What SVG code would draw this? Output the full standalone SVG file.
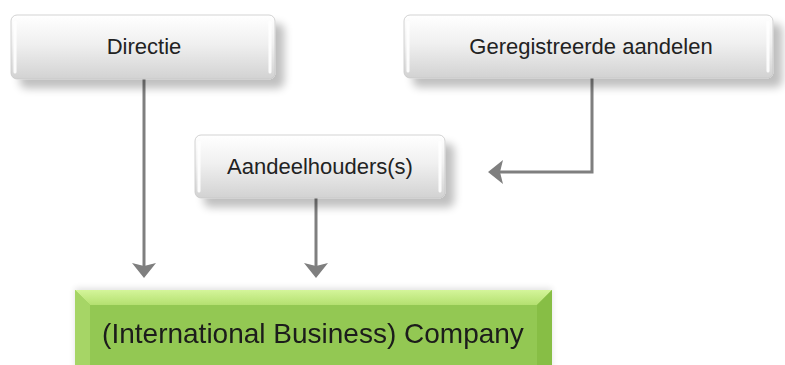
<svg xmlns="http://www.w3.org/2000/svg" width="785" height="365" viewBox="0 0 785 365">
<style>
.lbl{font-family:"Liberation Sans",Arial,sans-serif;font-size:22px;fill:#222;text-anchor:middle}
.big{font-family:"Liberation Sans",Arial,sans-serif;font-size:28px;fill:#1a1a1a;text-anchor:middle}
.box{fill:url(#gg);stroke:#c8c8c8;stroke-width:0.8;filter:url(#sh)}
.hl{stroke:#ffffff;stroke-width:3;stroke-linecap:round;opacity:0.9}
.con{stroke:#7f7f7f;stroke-width:3;fill:none}
</style>
<defs>
<linearGradient id="gg" x1="0" y1="0" x2="0" y2="1">
<stop offset="0" stop-color="#ffffff"/>
<stop offset="0.45" stop-color="#f0f0f0"/>
<stop offset="1" stop-color="#d2d2d2"/>
</linearGradient>
<linearGradient id="gt" x1="0" y1="0" x2="0" y2="1">
<stop offset="0" stop-color="#d4f59a"/>
<stop offset="1" stop-color="#b4e070"/>
</linearGradient>
<filter id="sh" x="-10%" y="-20%" width="125%" height="160%">
<feGaussianBlur in="SourceAlpha" stdDeviation="4"/>
<feOffset dx="9" dy="9" result="b"/>
<feComponentTransfer><feFuncA type="linear" slope="0.25"/></feComponentTransfer>
<feMerge><feMergeNode/><feMergeNode in="SourceGraphic"/></feMerge>
</filter>
<filter id="sh2" x="-5%" y="-20%" width="110%" height="160%">
<feGaussianBlur in="SourceAlpha" stdDeviation="3"/>
<feOffset dx="0" dy="-2"/>
<feComponentTransfer><feFuncA type="linear" slope="0.12"/></feComponentTransfer>
<feMerge><feMergeNode/><feMergeNode in="SourceGraphic"/></feMerge>
</filter>
<marker id="ah" markerWidth="8" markerHeight="8" refX="3" refY="4" orient="auto" markerUnits="strokeWidth">
<path d="M0,0 L5,4 L0,8 L1,4 Z" fill="#7f7f7f"/>
</marker>
</defs>

<g id="connectors">
<path class="con" d="M144,79 V272" marker-end="url(#ah)"/>
<path class="con" d="M316,198 V272" marker-end="url(#ah)"/>
<path class="con" d="M592,78 V172 H494" marker-end="url(#ah)"/>
</g>

<g id="node-directie">
<rect class="box" x="11" y="15" width="264" height="64" rx="6"/>
<line class="hl" x1="15" y1="22" x2="15" y2="72"/>
<line class="hl" x1="270" y1="22" x2="270" y2="72"/>
<text class="lbl" x="144" y="54">Directie</text>
</g>

<g id="node-geregistreerde">
<rect class="box" x="404" y="15" width="369" height="63" rx="6"/>
<line class="hl" x1="408" y1="22" x2="408" y2="71"/>
<line class="hl" x1="768" y1="22" x2="768" y2="71"/>
<text class="lbl" x="591" y="54">Geregistreerde aandelen</text>
</g>

<g id="node-aandeelhouders">
<rect class="box" x="195" y="135" width="250" height="63" rx="6"/>
<line class="hl" x1="199" y1="142" x2="199" y2="191"/>
<line class="hl" x1="440" y1="142" x2="440" y2="191"/>
<text class="lbl" x="320" y="174">Aandeelhouders(s)</text>
</g>

<g id="node-company" filter="url(#sh2)">
<rect x="75" y="290" width="477" height="80" fill="#93c852"/>
<polygon points="75,290 552,290 537,305 90,305" fill="url(#gt)"/>
<polygon points="75,290 90,305 90,370 75,370" fill="#a6d566"/>
<polygon points="552,290 537,305 537,370 552,370" fill="#87be45"/>
<rect x="90" y="305" width="447" height="65" fill="#93c852"/>
<text class="big" x="313" y="343">(International Business) Company</text>
</g>
</svg>
